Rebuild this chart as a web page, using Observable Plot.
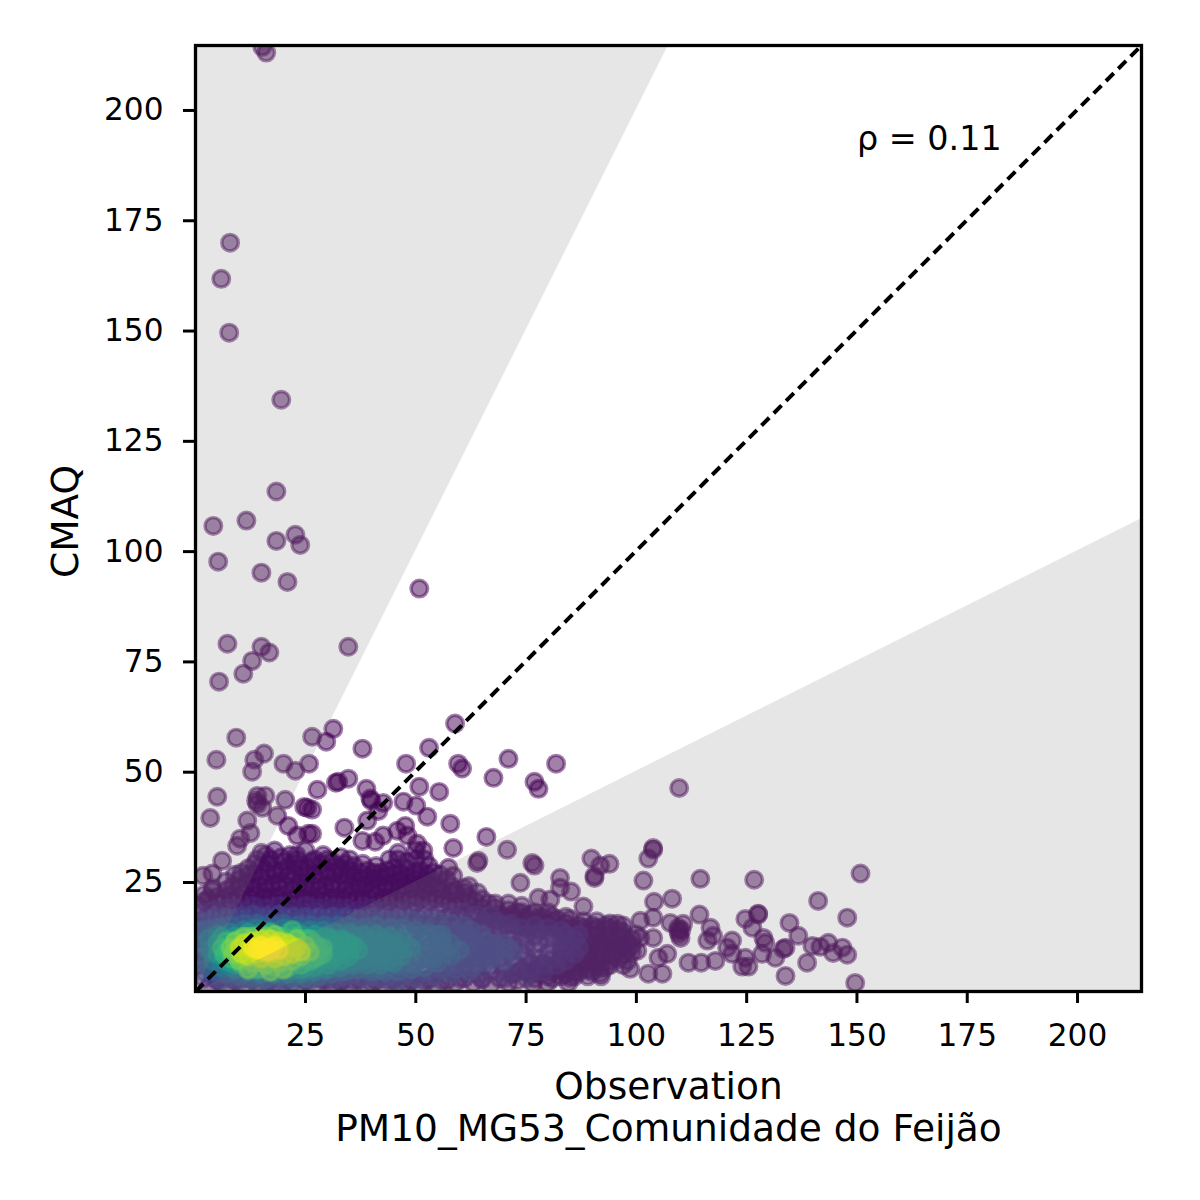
<!DOCTYPE html>
<html>
<head>
<meta charset="utf-8">
<script src="https://cdn.jsdelivr.net/npm/d3@7"></script>
<script src="https://cdn.jsdelivr.net/npm/@observablehq/plot@0.6"></script>
<style>
  body { margin: 0; background: white; }
</style>
</head>
<body>
<div id="chart"></div>
<script>
// limits of both axes, ticks and texts
const axisLimits = [0.06, 214.5];
const tickValues = [25, 50, 75, 100, 125, 150, 175, 200];
const xTitle = "Observation\nPM10_MG53_Comunidade do Feijão";
const yTitle = "CMAQ";
const rhoText = "ρ = 0.11";

// grey zones, outside the factor of 2 band
const upperZoneObs = [0.06, 107.25];
const upperZoneLow = [0.12, 214.5];
const lowerZoneObs = [0.06, 214.5];
const lowerZoneHigh = [0.03, 107.25];

// density level of each group of points, low to high
const bandDensity = [0, 0.03, 0.1, 0.2, 0.3, 0.42, 0.55, 0.68, 0.8, 0.92, 1];

// [obs, cmaq] scattered points
const sparsePts = [
  [16.1,212.9],[15.2,214.2],[7.9,169.8],[5.9,161.6],[7.7,149.4],[19.5,134.2],[18.4,113.4],[4.1,105.6],
  [11.6,106.8],[22.7,103.6],[18.4,102.2],[23.8,101.3],[5.2,97.5],[15,95],[20.9,92.9],[50.8,91.4],
  [34.7,78.2],[7.3,78.9],[15,78.2],[16.8,76.9],[12.9,75],[10.9,72.1],[5.4,70.3],[31.3,59.6],[58.9,60.8],
  [29.7,56.7],[26.5,57.8],[9.3,57.6],[53,55.3],[37.9,55.1],[15.6,54],[13.4,52.6],[4.8,52.6],[20,51.7],
  [25.8,51.7],[22.7,50.1],[12.9,49.9],[47.8,51.7],[59.6,51.7],[60.5,50.6],[71,52.8],[81.8,51.7],[50.8,46.5],
  [67.6,48.5],[76.9,47.6],[77.8,46],[109.7,46.2],[5,44.2],[34.7,48.3],[32.4,47.6],[31.9,47.4],[27.7,45.8],
  [38.8,46],[39.9,43.3],[55.3,45.3],[47.2,43.1],[50.1,42.2],[20.4,43.5],[14.1,44.4],[15.9,44.4],[14.1,42.6],
  [15.2,41.7],[13.8,43.3],[24.7,41.9],[25.4,41.7],[26.5,41.3],[3.4,39.4],[52.6,39.7],[57.8,38.1],[39,38.8],
  [41.5,41],[33.8,37.2],[11.8,38.8],[18.6,39.9],[21.1,37.6],[23.1,35.4],[25.6,35.8],[26.5,35.8],[12.5,36],
  [10.2,34.7],[9.5,33.1],[6.1,29.7],[3.9,26.8],[1.8,26.3],[3.9,22.9],[37.9,34.2],[40.8,34],[42.6,35.4],
  [45.8,36.5],[47.6,37.6],[48.1,35.4],[50.3,33.6],[51.7,32],[39.7,43.8],[42.6,42.8],[66,35.1],[58.5,32.6],
  [70.7,32.2],[103.8,32.6],[103.8,32.2],[102.7,30.2],[64.2,29.7],[63.9,29.2],[76.4,29.2],[76.9,28.6],
  [57.4,28.1],[58.5,26.3],[73.7,24.7],[82.7,25.8],[82.7,23.6],[85.2,22.7],[89.8,30.2],[93.9,29],[91.8,28.6],
  [90.5,26.3],[90.5,25.8],[101.6,25.2],[114.5,25.6],[126.7,25.4],[150.8,26.8],[141.2,20.6],[147.8,16.8],
  [104,20.4],[108.1,21.1],[88,19.3],[77.8,21.3],[80.5,20.9],[114.3,17.5],[127.6,17.7],[127.6,17.5],
  [124.7,16.5],[126.3,14.5],[134.7,15.6],[136.7,12.7],[139.9,10.4],[141.7,10.2],[143.5,11.1],[146.7,10],
  [144.6,8.8],[147.8,8.4],[138.7,6.6],[133.8,3.6],[149.6,2],[133.8,10],[133.3,9.7],[131.5,7.7],[128.8,12.2],
  [129.2,11.1],[128.5,8.6],[124.7,7.7],[124,5.7],[125.4,5.7],[121.7,11.6],[120.6,10],[121.7,8.6],[116.8,14.5],
  [117.4,12.7],[116.1,11.6],[117.9,7],[114.7,6.6],[111.8,6.6],[109.5,14.5],[109.5,13.8],[110,12.2],[109.7,13],
  [110.2,14],[107.7,15.6],[110.6,15.4],[107,8.6],[105,7.7],[105.9,4.1],[102.7,4.1],[98.6,5.2],[100.9,16.1],
  [103.8,16.8],[100.9,12.2],[103.8,12.2],[100.2,9.3],[95.7,15.4],[94.8,10],[91.8,4.1],[84.6,2],[79.8,2],[76.6,1.8]
];

const band1 = [
  [15,31.5],[18,32],[21.5,31],[25,32],[29,31],[33,30.5],[46,31.5],[50,32],[52,30],
  [14,30],[17,30],[20,29.5],[23,30],[27,30],[31,29.5],[35,30],[44,30],[48,29.5],
  [12,28],[15,28.5],[18,27.5],[21,28.5],[24,28],[27,28.5],[30,27.5],[33,28],[36,28.5],[39,27.5],[42,27],[45,28],[48,28],[51,27.5],[54,27],
  [9,26.5],[12,26.5],[15,26],[18,26.5],[21,26.5],[24,26],[27,26.5],[30,26],[33,26.5],[36,26],[39,26],[42,26],[45,26.5],[48,26],[51,26],[54,25.5],[57,25.5],
  [7,25],[10,25.5],[13,25],[16,24.5],[19,25],[22,25.5],[25,24.5],[28,25],[31,24.5],[34,25],[37,24.5],[40,25],[43,24.5],[46,25],[49,24.5],[52,25],[55,24.5],[58,24],[61,23.5],
  [4,23.5],[7,23],[10,23.5],[13,23.5],[16,23],[19,23.5],[22,23],[25,23.5],[28,23],[31,23.5],[34,23],[37,23.5],[40,23],[43,23.5],[46,23],[49,23.5],[52,23],[55,23.5],[58,22.5],[61,22.5],[64,22.5],
  [2,22],[5,21.5],[8,22],[11,22.5],[14,22],[17,21.5],[20,22],[23,21.5],[26,22],[29,22],[32,21.5],[35,22],[38,21.5],[41,22],[44,21.5],[47,22],[50,21.5],[53,22],[56,21.5],[59,22],[62,21.5],[65,21],[68,20],
  [2,20.5],[5,20],[8,20.5],[11,20.5],[14,20],[17,20.5],[20,20.5],[23,20],[26,20.5],[29,20.5],[32,20],[35,20.5],[38,20.5],[41,20],[44,20.5],[47,20.5],[50,20],[53,20.5],[71,20],[74,19.5],
  [1,19.5],[56,20],[59,19.5],[62,20],[65,19],[68,19],[71,18.5],[74,18],[77,18],[80,18],
  [60,17.5],[63,18],[66,17.5],[69,17.5],[72,17.5],[75,17],[78,17],[81,17],[84,17],
  [66,16.5],[69,16.5],[72,16.5],[75,16],[78,16],[81,16],[84,15.5],[87,15],[90,15],[93,15],
  [75,14.5],[78,14],[81,14.5],[84,14],[87,14],[90,14],[93,14],[96,14],
  [85,13],[88,13],[91,13],[94,13],[97,12.5],[86,11.5],[89,11.5],[92,11.5],[95,11.5],[98,11],
  [88,10],[91,10],[94,10],[97,10],[99,9],[85,8.5],[88,8.5],[91,8.5],[94,8.5],[97,8.5],
  [85,7],[88,7],[91,7],[94,7],[96,7.5],[78,5.5],[81,5.5],[84,5.5],[87,5.5],[90,5.5],[93,5.5],
  [72,4],[75,4.5],[78,4],[81,4.5],[84,4],[87,4.5],[90,4.5],
  [3,1],[7,1],[11,1.5],[15,1],[19,1.5],[23,1],[27,1.5],[31,1],[35,1],[39,1.5],[43,1],[47,1.5],[51,1.5],[55,1],[59,2],[63,2],[67,1.5],[71,2],
  [5,2.8],[9,2.5],[13,2.8],[17,2.5],[21,2.8],[25,2.5],[29,2.8],[33,2.5],[37,2.8],[41,2.5],[45,2.8],[49,2.5],[53,2.8],[57,2.5],[61,3],[65,2.8],[69,3],[73,2.5],[77,3],[81,3],[85,3.2]
];
// second pass of the same zone, the reference is solid here
const band1Fill = [
  [16,31],[19.5,30.5],[23,31],[26.5,29.5],[30,30],[34,29],[38,29],[41,28.5],[46,30],[50,30],[53,28.5],
  [13.5,29],[16.5,29],[22.5,29],[25.5,28],[28.5,29],[32,28.5],[35,27.5],[37.5,27],[40.5,27],[43.5,27.5],[46.5,27],[49.5,27],[52.5,26.5],[55.5,26.5],
  [10.5,27],[13.5,27],[16.5,27],[19.5,27.5],[22.5,27],[25.5,26.5],[28.5,27],[31.5,27],[34.5,26.5],[37.5,25.5],[40.5,25.5],[43.5,26],[46.5,25.5],[49.5,25.5],[52.5,24.5],[56,23],[59,23],
  [8.5,24],[11.5,24.5],[14.5,24],[17.5,24.5],[20.5,24],[23.5,24.5],[26.5,24],[29.5,24],[32.5,24],[35.5,24],[38.5,24],[41.5,24],[44.5,24],[47.5,24],[50.5,24],[53.5,24],[62,24],
  [3,21],[6.5,21],[9.5,21.5],[12.5,21],[15.5,21.5],[18.5,21.5],[21.5,21],[24.5,21],[27.5,21],[30.5,21],[33.5,21],[36.5,21],[39.5,21],[42.5,21],[45.5,21],[48.5,21],[51.5,21],[54.5,21],[57.5,20.5],[60.5,20.5],[63.5,20.5],[66.5,20]
];
// right tail, solid dark purple out to about obs 100
const band1Tail = [
  [70,17],[73,18],[76,17.5],[79,17],[82,16.5],[85,16.5],[88,16],[91,16],[94,15.5],[97,15],
  [73,15],[76,14.5],[79,15],[82,14.5],[85,14.5],[88,14.5],[91,14.5],[94,14.5],[97,13.5],[100,13],
  [84,12.5],[87,12],[90,12.5],[93,12],[96,12.5],[99,12],[84,10.5],[87,10.5],[90,11],[93,10.5],[96,10.5],[99,10.5],
  [83,9.5],[86,9.5],[89,9],[92,9.5],[95,9],[98,9.5],[83,7.5],[86,8],[89,7.5],[92,7.5],[95,8],[98,7],
  [76,6.5],[79,6.5],[82,6.5],[85,6],[88,6],[91,6],[94,6],[97,6],[74,5],[77,5],[80,5],[83,5],[86,4.5],[89,5],[92,5.5],
  [80,3.5],[83,3.5],[86,3.5],[89,3.5],[92,3.5]
];
const band2 = [
  [1,18],[4,18.5],[7,19],[10,19],[13,19.5],[16,19],[19,19.5],[22,19],[25,19.5],[28,19],[31,19],[34,19],[37,18.5],[40,19],[43,18.5],[46,18.5],[49,19],[52,18.5],[55,18],[58,18],[61,18],[64,17.5],[67,17.5],
  [2.5,17],[5.5,17.5],[8.5,17.5],[11.5,18],[14.5,18],[17.5,17.5],[20.5,18],[23.5,17.5],[26.5,18],[29.5,17.5],[32.5,17.5],[35.5,17.5],[38.5,17.5],[41.5,17.5],[44.5,17],[47.5,17.5],[50.5,17],[53.5,17],[56.5,16.5],[59.5,16.5],[62.5,16.5],[65.5,16],[68.5,16],[71.5,15.5],
  [1,15],[50,15.5],[53,15],[56,15.5],[59,15],[62,15],[65,15.5],[68,15],[71,15],[74,14.5],[77,15],[80,14.5],[83,14],
  [60,13.5],[63,13.5],[66,14],[69,13.5],[72,13.5],[75,13],[78,13.5],[81,13],[84,13],[87,13],
  [65,12],[68,12.5],[71,12],[74,12],[77,12.5],[80,12],[83,11.5],[86,12],
  [63,10.5],[66,10.5],[69,11],[72,10.5],[75,10.5],[78,11],[81,10.5],[84,10.5],[87,10],
  [65,9],[68,9.5],[71,9],[74,9],[77,9.5],[80,9],[83,9],[86,8.5],
  [60,7.5],[63,7.5],[66,8],[69,7.5],[72,7.5],[75,8],[78,7.5],[81,7.5],[84,7],
  [55,6],[58,5.5],[61,6],[64,5.5],[67,6],[70,5.5],[73,6],[76,5.5],[79,6],[82,6],
  [46,4],[49,4.5],[52,4],[55,4.5],[58,4.5],[61,4.5],[64,4],[67,4.5],[70,4.5],[73,4.5],[76,4],[79,4.5],
  [2,3],[5,2.5],[30,2.5],[33,2],[36,2.5],[40,2],[44,2.5],[48,2],[52,2.5],[56,2.5],[60,3],[65,3],[70,3],[75,3],
  [1,12],[1,9],[1,6]
];
const band3 = [
  [1,16],[4,16.5],[7,17],[10,17],[13,17.5],[16,17],[19,17.5],[22,17],[25,17],[28,17],[31,17],[34,17],[37,16.5],[40,17],[43,16.5],[46,16.5],[49,16.5],[52,16],[55,16],[58,15.5],[61,15],
  [2.5,15],[5.5,15.5],[8.5,16],[11.5,16],[14.5,16.5],[17.5,16],[20.5,16],[23.5,16],[26.5,16],[29.5,16],[32.5,16],[35.5,15.5],[38.5,15.5],[41.5,15.5],[44.5,15.5],[47.5,15],[50.5,15],[53.5,14.5],[56.5,14],[59.5,13.5],[62.5,14],[65,13],
  [1,13],[1,10],[1.5,7],[2,4.5],[62,12.5],[64,11],[67,10],[70,11],[72,9],[70,7],[66,6.5],[62,4.5],[58,4],[54,3.5],[50,3],[46,2.5],[42,3],
  [38,3],[34,3.5],[30,3.5],[26,2.5],[22,2],[18,2],[14,2],[10,2.5],[6,2.5],[58,12],[60,10],[56,9],[62,8],[58,6],
  [60,12],[66,11.5],[68,8.5],[64,9],[60,7],[64,6.5],[56,5],[52,4.5],[48,4],[44,3.5],[40,3.5],[36,4],[32,3],[28,3],[24,3],[20,2.5],[16,2.5],[12,3],[8,3],[4,3.5],
  [57,13],[61,13.5],[63,12],[65,10],[68,11],[71,10],[62,9.5],[66,8],[69,9.5],[61,8.5],[63,5.5],[67,7.5],[59,5],[55,7],[58,9.5],[60,11.5]
];
const band4 = [
  [2,14],[5,14.5],[8,15],[11,15.5],[14,15.5],[17,15.5],[20,15.5],[23,15],[26,15],[29,15],[32,15],[35,15],[38,14.5],[41,15],[44,14.5],[47,14.5],[50,14],[53,13.5],[56,13],[58,11],[60,9.5],[58,8],[55,6.5],[52,5.5],
  [49,5],[46,4.5],[43,4.5],[40,4.5],[37,5],[34,4.5],[31,4],[28,3.5],[25,3],[22,3],[19,3.5],[16,3],[13,3],[10,3.5],[7,4],[4,4.5],[2.5,7],[2,10],[2,12],[52,11],[54,9],[50,8],
  [3.5,13],[6.5,14],[9.5,14],[12.5,14.5],[15.5,14.5],[18.5,14.5],[21.5,14.5],[24.5,14.5],[27.5,14],[30.5,14],[33.5,14],[36.5,14],[39.5,14],[42.5,13.5],[45.5,13.5],[48.5,13],[51.5,13],[54.5,12],
  [49,11.5],[55,10.5],[52,9],[56,9.5],[47,7],[50,6.5],[53,7.5],[44,5.5],[41,5.5],[38,5.5],[35,5],[32,5],[29,4.5],[26,4],[23,3.8],[20,3.8],[17,3.8],[14,3.8],[11,4],[8,4.5],[5,5],[3,5.5],
  [46,12],[49,12.5],[52,12],[55,13],[47,10],[50,10.5],[53,10],[56,11.5],[48,9],[51,7.5],[54,7.5],[57,9],[46,6],[49,6],[42,5],[39,5],[45,8.5],[44,11]
];
const band5 = [
  [3,12],[5,13],[8,13.5],[11,14],[14,14.5],[17,14],[20,14.5],[23,14],[26,14],[29,14],[32,13.5],[35,13.5],[38,13],[41,13],[44,12.5],[47,12],[49,10],[47,8],[45,6.5],[42,6],[39,6],[36,6],[33,5.5],[30,5],[27,4.5],
  [24,4],[21,4],[18,4],[15,4],[12,4.5],[9,5],[6,5.5],[4,7],[3,9.5],[45,10],[42,9],[42,12],[39,10],
  [38,11.5],[41,11],[44,11],[46,9.5],[37,8.5],[40,8],[43,8],[45,8],[36,7],[39,7],[42,7],[33,6.5],[29,5.5],[26,5],[22,4.8],[7,6],[4.5,10.5],[4,8.5],
  [34,12.5],[37,12.5],[40,12],[43,12],[46,11],[36,10],[39,11],[42,10],[44,9],[47,9.5],[41,9.5],[38,9],[38,7.5],[41,8],[44,7],[35,6.5],[31,6],[34,7.5]
];
const band6 = [
  [5,11],[6,12.5],[9,12.5],[12,13.5],[15,13.5],[18,13],[21,13.5],[24,13],[27,13],[30,12.5],[33,12],[35,11],[37,9.5],[35,8],[33,7],[30,6],[27,5.5],[24,5],[21,5],[18,4.5],[15,5],[12,5],[9,6],[7,7],[5,8.5],[33,10],[30,9],[31,11],
  [28,11.5],[31,12],[34,9.5],[36,10.5],[29,7.5],[32,8],[26,6.5],[23,6],[20,6],[11,5.5],[8,6.5],[6,9.5],
  [29,12.5],[32,11],[34,11.5],[30,10],[33,8.5],[31,7],[28,6.5],[35,9],[27,12],[25,5.5]
];
const band7 = [
  [6,10],[7,11.5],[9,11.5],[12,12.5],[15,13],[17,13.5],[20,12.5],[22,14],[25,12],[27,11],[29,10],[28,8],[26,7],[24,6],[21,5.5],[18,5.5],[15,5.5],[12,6],[10,6.5],[8,7.5],[6.5,8.5],[25,9],
  [10,12],[13,11.5],[19,12.5],[23,12.5],[26,10],[27,9],[23,7],[20,6.5],[17,6],[14,5],[11,7],[7.5,9.5],
  [28,10],[29,8.5],[26,12],[27,7.5]
];
const band8 = [
  [8,10],[9,11.5],[11,12.5],[13,12.5],[16,12.5],[18,13],[20,11.5],[23,12],[25,10.5],[26,9],[24,8],[22,7],[19,6.5],[16,6],[13,6.5],[10,7],[8.5,8.5],[12,5],[17,4.5],[20,5],
  [9,9.5],[12,11],[15,11.5],[22,10.5],[24,9.5],[21,8],[18,7],[15,6.5],[12,7.5],[10,8]
];
const band9 = [
  [10,10],[11,11],[13,11.5],[15,12],[17,12],[19,11.5],[21,11],[23,10],[24,9],[22,8.5],[20,8],[18,7.5],[15,7.5],[12,8],[10.5,8.5],
  [12,10],[14,11],[16,11],[18,11],[20,10],[22,10],[14,8.5],[16,8.5],[18,8.5],[20,9.5]
];
const band10 = [[13,10],[14,9.5],[15,10.5],[16,10],[17,10],[18,10.5],[16,9],[19,9.5],[15,9.5],[17,9]];

const allBands = [sparsePts, [...band1, ...band1Fill, ...band1Tail], band2, band3, band4, band5, band6, band7, band8, band9, band10];

// low density first so the bright core ends on top
let points = allBands.flatMap((band, i) =>
  band.map(p => ({obs: p[0], cmaq: p[1], density: bandDensity[i]}))
);

let upperZone = upperZoneObs.map((x, i) => ({x: x, low: upperZoneLow[i], high: axisLimits[1]}));
let lowerZone = lowerZoneObs.map((x, i) => ({x: x, low: axisLimits[0], high: lowerZoneHigh[i]}));

let chart = Plot.plot({
  width: 1200,
  height: 1200,
  marginLeft: 195,
  marginRight: 59,
  marginTop: 45,
  marginBottom: 209,
  style: {background: "white", fontFamily: "DejaVu Sans", color: "black"},
  x: {domain: axisLimits},
  y: {domain: axisLimits},
  color: {type: "linear", scheme: "viridis", domain: [0, 1]},
  marks: [
    Plot.dot(points, {
      x: "obs",
      y: "cmaq",
      r: 8.3,
      fill: "density",
      stroke: "density",
      fillOpacity: 0.5,
      strokeOpacity: 0.5,
      strokeWidth: 3.4,
      clip: true
    }),
    Plot.areaY(upperZone, {x: "x", y1: "low", y2: "high", fill: "#808080", fillOpacity: 0.2}),
    Plot.areaY(lowerZone, {x: "x", y1: "low", y2: "high", fill: "#808080", fillOpacity: 0.2}),
    Plot.line(axisLimits.map(v => [v, v]), {stroke: "black", strokeWidth: 4, strokeDasharray: "11,6.4", strokeLinecap: "butt"}),
    Plot.text([rhoText], {x: 150, y: 193.2, textAnchor: "start", fontSize: 33.4, fill: "black"}),
    Plot.axisX({ticks: tickValues, tickSize: 12, tickPadding: 20, fontSize: 31.2, strokeWidth: 3, label: null}),
    Plot.axisY({ticks: tickValues, tickSize: 12, tickPadding: 20, fontSize: 31.2, strokeWidth: 3, label: null, dy: 1}),
    Plot.text([xTitle], {frameAnchor: "bottom", lineAnchor: "top", dy: 78, fontSize: 37.5, lineHeight: 1.12, fill: "black"}),
    Plot.text([yTitle], {frameAnchor: "left", textAnchor: "middle", rotate: -90, dx: -130, dy: 3, fontSize: 37.5, fill: "black"}),
    Plot.frame({stroke: "black", strokeWidth: 3.3})
  ]
});

d3.select("#chart").append(() => chart);
</script>
</body>
</html>
